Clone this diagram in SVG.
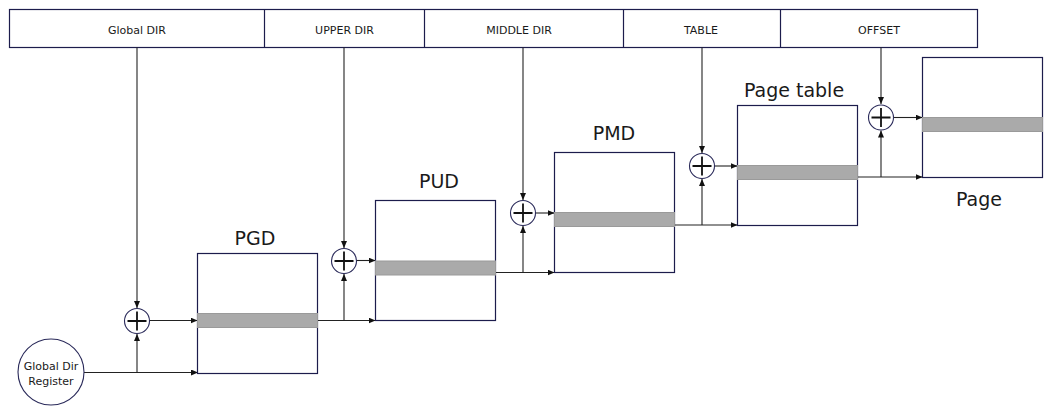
<svg xmlns="http://www.w3.org/2000/svg" width="1056" height="408" viewBox="0 0 1056 408">
<style>
.bar{fill:#fff;stroke:#1c1c4c;stroke-width:1.2}
.bt{font-family:"DejaVu Sans",Verdana,sans-serif;font-size:11px;fill:#1a1a1a;text-anchor:middle}
.box{fill:#fff;stroke:#1c1c4c;stroke-width:1.2}
.band{fill:#aaaaaa;stroke:#9a9a9a;stroke-width:1}
.lbl{font-family:"DejaVu Sans",Verdana,sans-serif;font-size:19px;fill:#1a1a1a;text-anchor:middle}
.add{fill:#fff;stroke:#2a2a5a;stroke-width:1.1}
.plus{stroke:#111;stroke-width:1.8}
.cn{fill:none;stroke:#222;stroke-width:1.1;marker-end:url(#ah)}
.ln{fill:none;stroke:#222;stroke-width:1.1}
.st{font-family:"DejaVu Sans",Verdana,sans-serif;font-size:11px;fill:#1a1a1a;text-anchor:middle}
</style>
<defs>
<marker id="ah" markerWidth="7" markerHeight="6" refX="7" refY="3" orient="auto" markerUnits="userSpaceOnUse">
<path d="M0,0 L7,3 L0,6 Z" fill="#111"/>
</marker>
</defs>

<g id="address">
<rect class="bar" x="9.5" y="9.5" width="968" height="38"/>
<line class="bar" x1="264.5" y1="9.5" x2="264.5" y2="47.5"/>
<line class="bar" x1="424.5" y1="9.5" x2="424.5" y2="47.5"/>
<line class="bar" x1="623.5" y1="9.5" x2="623.5" y2="47.5"/>
<line class="bar" x1="780.5" y1="9.5" x2="780.5" y2="47.5"/>
<text class="bt" x="137" y="34">Global DIR</text>
<text class="bt" x="344.5" y="34">UPPER DIR</text>
<text class="bt" x="519" y="34">MIDDLE DIR</text>
<text class="bt" x="701" y="34">TABLE</text>
<text class="bt" x="879" y="34">OFFSET</text>
</g>

<g id="connectors">
<!-- from address fields down to adders -->
<path class="cn" d="M137,47.5 V308"/>
<path class="cn" d="M344,47.5 V248"/>
<path class="cn" d="M523,47.5 V200"/>
<path class="cn" d="M702,47.5 V153"/>
<path class="cn" d="M881,47.5 V104"/>
<!-- register line -->
<path class="cn" d="M84,372.5 H198"/>
<path class="cn" d="M137,372.5 V334"/>
<!-- adder outputs -->
<path class="cn" d="M150,320.5 H197.5"/>
<path class="cn" d="M357,260.5 H375.5"/>
<path class="cn" d="M536,213 H554.5"/>
<path class="cn" d="M715,166 H737.5"/>
<path class="cn" d="M894,117.5 H922.5"/>
<!-- table outputs -->
<path class="cn" d="M317.5,320.5 H375.5"/>
<path class="cn" d="M344,320.5 V274"/>
<path class="cn" d="M495.5,272.5 H554.5"/>
<path class="cn" d="M523,272.5 V226"/>
<path class="cn" d="M674.5,225 H737.5"/>
<path class="cn" d="M702,225 V179"/>
<path class="cn" d="M857.5,177 H922.5"/>
<path class="cn" d="M881,177 V130.5"/>
</g>

<g id="register">
<circle class="add" cx="51" cy="372" r="33"/>
<text class="st" x="51" y="370">Global Dir</text>
<text class="st" x="51" y="385">Register</text>
</g>

<g id="pgd">
<rect class="box" x="197.5" y="253.5" width="120" height="120"/>
<rect class="band" x="197.5" y="313.5" width="120" height="14"/>
<text class="lbl" x="255" y="245">PGD</text>
</g>
<g id="pud">
<rect class="box" x="375.5" y="200.5" width="120" height="120"/>
<rect class="band" x="375.5" y="261" width="120" height="14"/>
<text class="lbl" x="439" y="188">PUD</text>
</g>
<g id="pmd">
<rect class="box" x="554.5" y="152.5" width="120" height="120"/>
<rect class="band" x="554.5" y="212.5" width="120" height="14"/>
<text class="lbl" x="614" y="140">PMD</text>
</g>
<g id="pagetable">
<rect class="box" x="737.5" y="105.5" width="120" height="120"/>
<rect class="band" x="737.5" y="165.5" width="120" height="14"/>
<text class="lbl" x="794" y="97">Page table</text>
</g>
<g id="page">
<rect class="box" x="922.5" y="57.5" width="120" height="120"/>
<rect class="band" x="922.5" y="117.5" width="120" height="14"/>
<text class="lbl" x="979" y="206">Page</text>
</g>

<g id="adder1"><circle class="add" cx="137" cy="321" r="12.5"/><path class="plus" d="M127.5,321 H146.5 M137,311.5 V330.5"/></g>
<g id="adder2"><circle class="add" cx="344" cy="261" r="12.5"/><path class="plus" d="M334.5,261 H353.5 M344,251.5 V270.5"/></g>
<g id="adder3"><circle class="add" cx="523" cy="213" r="12.5"/><path class="plus" d="M513.5,213 H532.5 M523,203.5 V222.5"/></g>
<g id="adder4"><circle class="add" cx="702" cy="166" r="12.5"/><path class="plus" d="M692.5,166 H711.5 M702,156.5 V175.5"/></g>
<g id="adder5"><circle class="add" cx="881" cy="117.5" r="12.5"/><path class="plus" d="M871.5,117.5 H890.5 M881,108 V127"/></g>
</svg>
